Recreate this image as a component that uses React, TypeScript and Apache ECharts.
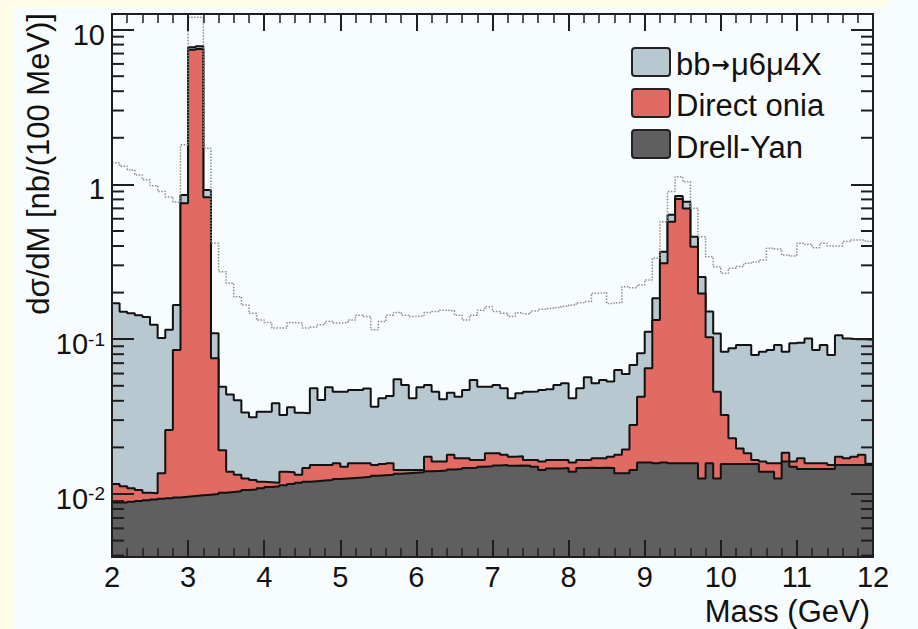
import React, { useEffect, useRef } from 'react';
import * as echarts from 'echarts';

const FONT = '"Liberation Sans", Arial, Helvetica, sans-serif';

// 100 bins of 0.1 GeV from 2 to 12 GeV
const massLow = 2.0;
const binWidth = 0.1;
const nBins = 100;
const binEdges = Array.from({ length: nBins + 1 }, (_, i) => Math.round((massLow + i * binWidth) * 10) / 10);

const yMin = 0.003917;
const yMax = 12.61;

const seriesNames = ['bb→μ6μ4X', 'Direct onia', 'Drell-Yan'];
const legendRich = ['{n|bb}{ar|→}{n|μ6μ4X}', '{n|Direct onia}', '{n|Drell-Yan}'];
const fillColors = ['#B8C8D1', '#E16A62', '#5F5F5F'];

// Drell-Yan (bottom of the stack)
const drellYan = [
  0.0088, 0.0088, 0.0089, 0.0090, 0.0091, 0.0092, 0.0093, 0.0094, 0.0095, 0.0096,
  0.0097, 0.0098, 0.0099, 0.0100, 0.0102, 0.0103, 0.0104, 0.0106, 0.0107, 0.0109,
  0.0111, 0.0112, 0.0114, 0.0116, 0.0118, 0.0120, 0.0121, 0.0122, 0.0123, 0.0125,
  0.0126, 0.0127, 0.0128, 0.0129, 0.0131, 0.0132, 0.0133, 0.0135, 0.0136, 0.0137,
  0.0138, 0.0140, 0.0141, 0.0142, 0.0144, 0.0145, 0.0147, 0.0148, 0.0150, 0.0151,
  0.0153, 0.0154, 0.0152, 0.0153, 0.0152, 0.0150, 0.0143, 0.0146, 0.0146, 0.0147,
  0.0139, 0.0147, 0.0148, 0.0147, 0.0148, 0.0147, 0.0136, 0.0136, 0.0143, 0.0160,
  0.0160, 0.0158, 0.0160, 0.0158, 0.0158, 0.0158, 0.0158, 0.0126, 0.0158, 0.0126,
  0.0156, 0.0156, 0.0156, 0.0156, 0.0156, 0.0139, 0.0139, 0.0126, 0.0162, 0.0150,
  0.0145, 0.0145, 0.0145, 0.0145, 0.0145, 0.0154, 0.0154, 0.0154, 0.0154, 0.0154,
];

// Direct onia (stacked on Drell-Yan)
const directOnia = [
  0.0028, 0.0024, 0.0020, 0.0016, 0.0011, 0.0009, 0.0043, 0.0165, 0.0756, 0.745,
  7.39, 7.49, 0.816, 0.0654, 0.0090, 0.0036, 0.0029, 0.0020, 0.0016, 0.0011,
  0.0008, 0.0006, 0.0025, 0.0022, 0.0015, 0.0027, 0.0033, 0.0032, 0.0031, 0.0033,
  0.0024, 0.0031, 0.0030, 0.0029, 0.0023, 0.0024, 0.0025, 0.0008, 0.0007, 0.0006,
  0.0005, 0.0034, 0.0021, 0.0020, 0.0035, 0.0025, 0.0023, 0.0018, 0.0016, 0.0032,
  0.0030, 0.0025, 0.0022, 0.0022, 0.0014, 0.0016, 0.0019, 0.0020, 0.0020, 0.0019,
  0.0021, 0.0019, 0.0018, 0.0023, 0.0022, 0.0027, 0.0043, 0.0058, 0.0136, 0.0265,
  0.0489, 0.117, 0.293, 0.558, 0.789, 0.684, 0.380, 0.185, 0.087, 0.0332,
  0.0168, 0.0073, 0.0041, 0.0027, 0.0010, 0.0023, 0.0019, 0.0032, 0.0023, 0.0012,
  0.0025, 0.0013, 0.0013, 0.0013, 0.0009, 0.0020, 0.0016, 0.0020, 0.0025, 0.0003,
];

// bb -> mu6 mu4 X (top of the stack)
const bbMuMu = [
  0.159, 0.139, 0.136, 0.132, 0.129, 0.114, 0.088, 0.089, 0.081, 0.100,
  0.30, 0.30, 0.094, 0.034, 0.030, 0.030, 0.027, 0.021, 0.019, 0.022,
  0.0221, 0.0267, 0.0185, 0.0225, 0.0202, 0.0185, 0.0328, 0.0251, 0.0335, 0.0300,
  0.0308, 0.0312, 0.0312, 0.0322, 0.0212, 0.0259, 0.0272, 0.0408, 0.0363, 0.0272,
  0.0346, 0.0332, 0.0296, 0.0248, 0.0271, 0.0255, 0.0300, 0.0379, 0.0327, 0.0310,
  0.0323, 0.0303, 0.0241, 0.0272, 0.0292, 0.0294, 0.0308, 0.0309, 0.0340, 0.0353,
  0.0255, 0.0316, 0.0401, 0.0349, 0.0375, 0.0359, 0.0453, 0.0402, 0.0402, 0.0386,
  0.047, 0.051, 0.058, 0.063, 0.036, 0.073, 0.063, 0.055, 0.048, 0.063,
  0.0506, 0.0645, 0.0721, 0.0735, 0.0624, 0.0668, 0.0693, 0.0760, 0.0645, 0.0778,
  0.0780, 0.0852, 0.0693, 0.0760, 0.0636, 0.0886, 0.0840, 0.0826, 0.0821, 0.0833,
];

// dotted grey histogram
const dottedTotal = [
  1.38, 1.31, 1.24, 1.15, 1.07, 0.98, 0.90, 0.83, 0.77, 1.80,
  12.0, 12.0, 1.71, 0.417, 0.273, 0.230, 0.188, 0.166, 0.147, 0.133,
  0.128, 0.118, 0.118, 0.128, 0.127, 0.118, 0.120, 0.124, 0.130, 0.127,
  0.128, 0.133, 0.143, 0.140, 0.115, 0.130, 0.143, 0.149, 0.143, 0.140,
  0.141, 0.149, 0.151, 0.154, 0.153, 0.143, 0.133, 0.143, 0.154, 0.162,
  0.151, 0.147, 0.140, 0.148, 0.146, 0.152, 0.156, 0.158, 0.160, 0.163,
  0.166, 0.172, 0.175, 0.198, 0.200, 0.170, 0.172, 0.218, 0.215, 0.224,
  0.241, 0.333, 0.574, 0.898, 1.12, 1.04, 0.70, 0.459, 0.341, 0.294,
  0.267, 0.287, 0.295, 0.309, 0.315, 0.325, 0.387, 0.382, 0.350, 0.345,
  0.417, 0.410, 0.390, 0.417, 0.400, 0.400, 0.427, 0.437, 0.437, 0.427,
];

const stepData = (vals: number[]) =>
  binEdges.map((x, i) => [x, vals[Math.min(i, vals.length - 1)]]);

export default function App() {
  const ref = useRef<HTMLDivElement>(null);

  useEffect(() => {
    if (!ref.current) return;
    const chart = echarts.init(ref.current, null, { renderer: 'svg' });

    const oniaTop = drellYan.map((v, i) => v + directOnia[i]);
    const totalTop = oniaTop.map((v, i) => v + bbMuMu[i]);

    const minorVals: number[] = [];
    [-3, -2, -1, 0, 1].forEach((k) => {
      for (let m = 2; m <= 9; m++) {
        const v = m * Math.pow(10, k);
        if (v > yMin && v < yMax) minorVals.push(v);
      }
    });

    const tickColor = '#1e1e1e';
    const xAxisBase = {
      type: 'value',
      min: 2,
      max: 12,
      interval: 1,
      z: 10,
      axisLine: { show: true, onZero: false, lineStyle: { color: tickColor, width: 2 } },
      axisTick: { show: true, inside: true, length: 17, lineStyle: { color: tickColor, width: 2 } },
      minorTick: { show: true, splitNumber: 5, length: 9, lineStyle: { color: tickColor, width: 1.5 } },
      splitLine: { show: false },
      minorSplitLine: { show: false },
    };
    const yAxisBase = {
      type: 'log',
      logBase: 10,
      min: yMin,
      max: yMax,
      z: 10,
      axisLine: { show: true, onZero: false, lineStyle: { color: tickColor, width: 2 } },
      axisTick: { show: true, inside: true, length: 22, lineStyle: { color: tickColor, width: 2 } },
      splitLine: { show: false },
    };

    const histSeries = (name: string, vals: number[], color: string, z: number) => ({
      type: 'line',
      name,
      data: stepData(vals),
      step: 'end',
      showSymbol: false,
      symbol: 'none',
      silent: true,
      z,
      lineStyle: { color: '#111', width: 2 },
      areaStyle: { color, opacity: 1, origin: 'start' },
    });

    const legendRows = [64, 105.5, 147];
    const legendBoxTop = [48, 89, 130];

    chart.setOption({
      animation: false,
      backgroundColor: '#F7FCFE',
      grid: { left: 112, right: 45, top: 14, bottom: 72, containLabel: false },
      xAxis: [
        {
          ...xAxisBase,
          position: 'bottom',
          axisLabel: { show: true, fontSize: 29, color: '#111', fontFamily: FONT, margin: 5 },
        },
        {
          ...xAxisBase,
          position: 'top',
          axisLabel: { show: false },
        },
      ],
      yAxis: [
        {
          ...yAxisBase,
          position: 'left',
          axisLabel: {
            show: true,
            fontSize: 29,
            color: '#111',
            fontFamily: FONT,
            margin: 7,
            padding: [10, 0, 0, 0],
            formatter: (v: number) => {
              const lg = Math.log10(v);
              const e = Math.round(lg);
              if (Math.abs(lg - e) > 1e-6) return '';
              if (e === 0) return '1';
              if (e === 1) return '10';
              return '{b|10}{s|' + e + '}';
            },
            rich: {
              b: { fontSize: 29, color: '#111', fontFamily: FONT },
              s: { fontSize: 19, color: '#111', fontFamily: FONT, verticalAlign: 'top' },
            },
          },
        },
        {
          ...yAxisBase,
          position: 'right',
          axisLabel: { show: false },
        },
      ],
      series: [
        histSeries(seriesNames[0], totalTop, fillColors[0], 2),
        histSeries(seriesNames[1], oniaTop, fillColors[1], 3),
        histSeries(seriesNames[2], drellYan, fillColors[2], 4),
        {
          type: 'line',
          name: 'dotted',
          data: stepData(dottedTotal),
          step: 'end',
          showSymbol: false,
          symbol: 'none',
          silent: true,
          z: 5,
          lineStyle: { color: '#8c8c8c', width: 1.5, type: 'dotted' },
        },
        {
          type: 'custom',
          name: 'minorTicks',
          silent: true,
          z: 12,
          data: minorVals.map((v) => [2, v]),
          encode: { x: 0, y: 1 },
          renderItem: (_params: any, api: any) => {
            const v = api.value(1);
            const l = api.coord([2, v]);
            const r = api.coord([12, v]);
            const st = { stroke: tickColor, lineWidth: 2 };
            return {
              type: 'group',
              children: [
                { type: 'line', shape: { x1: l[0], y1: l[1], x2: l[0] + 12, y2: l[1] }, style: st },
                { type: 'line', shape: { x1: r[0] - 12, y1: r[1], x2: r[0], y2: r[1] }, style: st },
              ],
            };
          },
        },
      ],
      graphic: [
        { type: 'rect', left: 0, top: 0, shape: { width: 13, height: 629 }, style: { fill: '#FEFCE8' }, z: 0, silent: true },
        { type: 'rect', left: 0, top: 0, shape: { width: 888, height: 7 }, style: { fill: '#FEFCE8' }, z: 0, silent: true },
        ...seriesNames.map((name, i) => ({
          type: 'rect',
          x: 632,
          y: legendBoxTop[i],
          shape: { width: 38, height: 28, r: 3 },
          style: { fill: fillColors[i], stroke: '#222', lineWidth: 2 },
          z: 20,
          silent: true,
        })),
        ...seriesNames.map((name, i) => ({
          type: 'text',
          x: 676,
          y: legendRows[i],
          style: {
            text: legendRich[i],
            fontSize: 31,
            fontFamily: FONT,
            fill: '#111',
            align: 'left',
            verticalAlign: 'middle',
            rich: {
              n: { fontSize: 31, fontFamily: FONT, fill: '#111', color: '#111' },
              ar: { fontSize: 22, fontFamily: '"DejaVu Sans", sans-serif', fill: '#111', color: '#111', fontWeight: 'bold', padding: [0, 1, 0, 1] },
            },
          },
          z: 20,
          silent: true,
        })),
        {
          type: 'text',
          x: 870,
          y: 611,
          style: { text: 'Mass (GeV)', fontSize: 31, fontFamily: FONT, fill: '#111', align: 'right', verticalAlign: 'middle' },
          z: 20,
          silent: true,
        },
        {
          type: 'text',
          x: 38,
          y: 13,
          rotation: Math.PI / 2,
          style: { text: 'dσ/dM [nb/(100 MeV)]', fontSize: 31, fontFamily: FONT, fill: '#111', align: 'right', verticalAlign: 'middle' },
          z: 20,
          silent: true,
        },
      ],
    });

    return () => chart.dispose();
  }, []);

  return (
    <div
      ref={ref}
      style={{ position: 'absolute', left: 0, top: 0, width: 918, height: 629, background: '#F7FCFE' }}
    />
  );
}
